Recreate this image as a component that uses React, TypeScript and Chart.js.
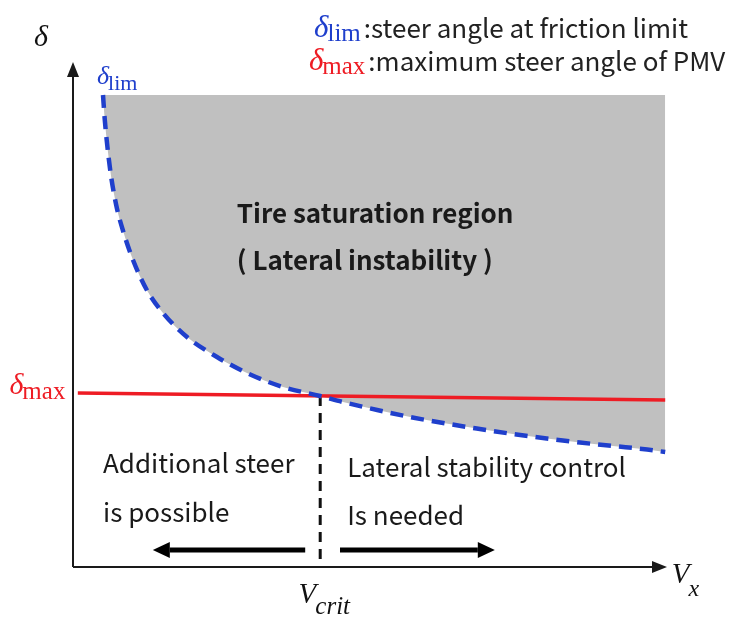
import React, { useEffect, useRef } from "react";
import { Chart, registerables } from "chart.js";

Chart.register(...registerables);

// Vehicle speed samples and the friction-limit steer angle δlim at each speed
const speedSamples = [5.0, 5.3, 6.2, 7.2, 8.3, 10.0, 12.3, 15.0, 19.0, 24.0, 29.0, 35.0, 41.2, 45.0, 50.7, 56.2, 61.7, 67.3, 73.3, 79.0, 84.5, 90.0, 95.7, 98.7];
const deltaLimValues = [94.4, 89.4, 79.4, 72.4, 67.4, 61.4, 55.4, 50.8, 46.0, 42.0, 38.8, 36.0, 34.2, 33.0, 31.4, 30.0, 28.8, 27.7, 26.6, 25.7, 24.9, 24.2, 23.5, 23.0];

// Maximum steer angle of the PMV (end points of the red line)
const deltaMaxSpeeds = [0.8, 98.7];
const deltaMaxValues = [34.8, 33.4];

// Critical speed where δlim crosses δmax
const vCrit = 41.2;
const deltaAtCrit = 34.2;

// Direction arrows under the curves: [tail, head]
const arrowLevel = 3.4;
const leftArrowSpan = [38.7, 13.3];
const rightArrowSpan = [44.5, 70.3];

// Axis arrow tips
const xAxisEnd = 99.0;
const yAxisEnd = 101.0;

const SERIF = "'Liberation Serif', 'DejaVu Serif', serif";
const SANS = "'Noto Sans CJK KR', 'Noto Sans', sans-serif";
const BLUE = "#1f3fcc";
const RED = "#ee1c24";
const INK = "#111111";

type SymStyle = {
  main: string;
  sub: string;
  color: string;
  mainSize: number;
  subSize: number;
  subItalic: boolean;
  subDy: number;
};
type Sym = SymStyle & { x: number; y: number };

// Math-style symbols (δ, V with subscripts), anchored in data units
const symbols: Sym[] = [
  { x: -6.5, y: 104.2, main: "δ", sub: "", color: INK, mainSize: 30, subSize: 0, subItalic: false, subDy: 0 },
  { x: 4.0, y: 96.6, main: "δ", sub: "lim", color: BLUE, mainSize: 26, subSize: 22, subItalic: false, subDy: 6 },
  { x: -10.6, y: 34.6, main: "δ", sub: "max", color: RED, mainSize: 30, subSize: 25, subItalic: false, subDy: 5 },
  { x: 37.6, y: -7.2, main: "V", sub: "crit", color: INK, mainSize: 29, subSize: 25, subItalic: true, subDy: 11 },
  { x: 99.8, y: -3.2, main: "V", sub: "x", color: INK, mainSize: 29, subSize: 24, subItalic: true, subDy: 13 },
];

// Legend rows at the top: symbol + description, aligned on the text's right end
const legendRows = [
  { endX: 102.5, y: 106.0, sub: "lim", color: BLUE, text: ":steer angle at friction limit" },
  { endX: 108.7, y: 99.4, sub: "max", color: RED, text: ":maximum steer angle of PMV" },
];

// Plain annotations
const notes = [
  { x: 27.3, y: 68.8, text: "Tire saturation region", bold: true },
  { x: 27.3, y: 59.4, text: "( Lateral instability )", bold: true },
  { x: 5.0, y: 18.8, text: "Additional steer", bold: false },
  { x: 5.0, y: 9.0, text: "is possible", bold: false },
  { x: 45.7, y: 18.0, text: "Lateral stability control", bold: false },
  { x: 45.7, y: 8.4, text: "Is needed", bold: false },
];

function symbolWidth(ctx: CanvasRenderingContext2D, s: SymStyle) {
  ctx.font = `italic ${s.mainSize}px ${SERIF}`;
  let w = ctx.measureText(s.main).width;
  if (s.sub) {
    ctx.font = `${s.subItalic ? "italic " : ""}${s.subSize}px ${SERIF}`;
    w += ctx.measureText(s.sub).width - 1;
  }
  return w;
}

function drawSymbol(ctx: CanvasRenderingContext2D, px: number, py: number, s: SymStyle) {
  ctx.fillStyle = s.color;
  ctx.textAlign = "left";
  ctx.textBaseline = "alphabetic";
  ctx.font = `italic ${s.mainSize}px ${SERIF}`;
  ctx.fillText(s.main, px, py);
  const w = ctx.measureText(s.main).width;
  if (s.sub) {
    ctx.font = `${s.subItalic ? "italic " : ""}${s.subSize}px ${SERIF}`;
    ctx.fillText(s.sub, px + w - 1, py + s.subDy);
  }
}

function arrow(ctx: CanvasRenderingContext2D, x0: number, y0: number, x1: number, y1: number, width: number, headLen: number, headHalf: number) {
  const ang = Math.atan2(y1 - y0, x1 - x0);
  const bx = x1 - Math.cos(ang) * headLen;
  const by = y1 - Math.sin(ang) * headLen;
  ctx.beginPath();
  ctx.lineWidth = width;
  ctx.moveTo(x0, y0);
  ctx.lineTo(bx, by);
  ctx.stroke();
  ctx.beginPath();
  ctx.moveTo(x1, y1);
  ctx.lineTo(bx - Math.sin(ang) * headHalf, by + Math.cos(ang) * headHalf);
  ctx.lineTo(bx + Math.sin(ang) * headHalf, by - Math.cos(ang) * headHalf);
  ctx.closePath();
  ctx.fill();
}

const diagramPlugin = {
  id: "diagramDecor",
  afterDatasetsDraw(chart: any) {
    const { ctx, scales } = chart;
    const X = (v: number) => scales.x.getPixelForValue(v);
    const Y = (v: number) => scales.y.getPixelForValue(v);
    ctx.save();
    ctx.setLineDash([]);
    ctx.strokeStyle = "#1a1a1a";
    ctx.fillStyle = "#1a1a1a";
    // axes
    arrow(ctx, X(0), Y(0), X(0), Y(yAxisEnd), 2, 15, 6);
    arrow(ctx, X(0), Y(0), X(xAxisEnd), Y(0), 2, 15, 6);
    // region arrows
    ctx.strokeStyle = "#000";
    ctx.fillStyle = "#000";
    arrow(ctx, X(leftArrowSpan[0]), Y(arrowLevel), X(leftArrowSpan[1]), Y(arrowLevel), 5, 17, 8);
    arrow(ctx, X(rightArrowSpan[0]), Y(arrowLevel), X(rightArrowSpan[1]), Y(arrowLevel), 5, 17, 8);
    ctx.restore();
  },
  afterDraw(chart: any) {
    const { ctx, scales } = chart;
    const X = (v: number) => scales.x.getPixelForValue(v);
    const Y = (v: number) => scales.y.getPixelForValue(v);
    ctx.save();
    for (const s of symbols) drawSymbol(ctx, X(s.x), Y(s.y), s);
    for (const r of legendRows) {
      const style: SymStyle = { main: "δ", sub: r.sub, color: r.color, mainSize: 31, subSize: 25, subItalic: false, subDy: 4 };
      ctx.font = `26px ${SANS}`;
      const tw = ctx.measureText(r.text).width;
      const end = X(r.endX);
      const start = end - tw;
      ctx.fillStyle = "#222";
      ctx.textAlign = "left";
      ctx.textBaseline = "alphabetic";
      ctx.fillText(r.text, start, Y(r.y) + 1);
      const sw = symbolWidth(ctx, style);
      drawSymbol(ctx, start - sw - 3, Y(r.y), style);
    }
    for (const n of notes) {
      ctx.fillStyle = "#1a1a1a";
      ctx.font = `${n.bold ? "bold 26px" : "26px"} ${SANS}`;
      ctx.textAlign = "left";
      ctx.textBaseline = "alphabetic";
      ctx.fillText(n.text, X(n.x), Y(n.y));
    }
    ctx.restore();
  },
};

export default function App() {
  const ref = useRef<HTMLCanvasElement | null>(null);

  useEffect(() => {
    if (!ref.current) return;
    const chart = new Chart(ref.current, {
      type: "scatter",
      data: {
        datasets: [
          {
            label: "δlim",
            data: speedSamples.map((v, i) => ({ x: v, y: deltaLimValues[i] })),
            showLine: true,
            borderColor: BLUE,
            borderWidth: 4.5,
            borderDash: [13, 8],
            pointRadius: 0,
            cubicInterpolationMode: "monotone",
            fill: { value: deltaLimValues[0] },
            backgroundColor: "#c0c0c0",
            order: 0,
          },
          {
            label: "δmax",
            data: deltaMaxSpeeds.map((v, i) => ({ x: v, y: deltaMaxValues[i] })),
            showLine: true,
            borderColor: RED,
            borderWidth: 3.5,
            pointRadius: 0,
            fill: false,
            order: 1,
          },
          {
            label: "Vcrit",
            data: [
              { x: vCrit, y: deltaAtCrit },
              { x: vCrit, y: 0 },
            ],
            showLine: true,
            borderColor: INK,
            borderWidth: 3,
            borderDash: [10, 7],
            pointRadius: 0,
            fill: false,
            order: 2,
          },
        ],
      },
      options: {
        animation: false,
        responsive: false,
        maintainAspectRatio: false,
        layout: { padding: { left: 73, right: 60, top: 67, bottom: 52 } },
        scales: {
          x: { type: "linear", min: 0, max: 100, display: false },
          y: { type: "linear", min: 0, max: 100, display: false },
        },
        plugins: {
          legend: { display: false },
          tooltip: { enabled: false },
          filler: { drawTime: "beforeDatasetsDraw" },
        },
        events: [],
      } as any,
      plugins: [diagramPlugin],
    });
    return () => chart.destroy();
  }, []);

  return (
    <div style={{ position: "absolute", left: 0, top: 0, width: 733, height: 619, background: "#fff" }}>
      <canvas ref={ref} width={733} height={619} style={{ width: 733, height: 619, display: "block" }} />
    </div>
  );
}
